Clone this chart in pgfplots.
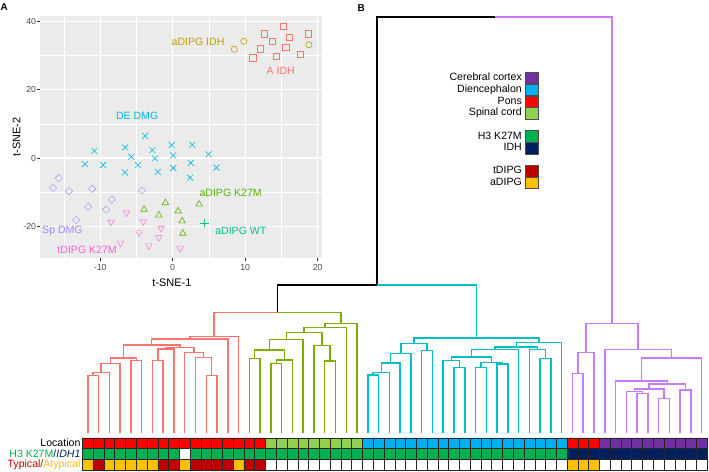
\documentclass[border=0pt]{standalone}
\usepackage{pgfplots}
\pgfplotsset{compat=1.18}
\usepackage{fontspec}
\setmainfont{Liberation Sans}

% t-SNE groups (ggplot hue palette, 7 levels)
\definecolor{gAidh}{HTML}{F8766D}
\definecolor{gaIdh}{HTML}{C49A00}
\definecolor{gaK}{HTML}{53B400}
\definecolor{gaWT}{HTML}{00C094}
\definecolor{gDE}{HTML}{00B6EB}
\definecolor{gSp}{HTML}{A58AFF}
\definecolor{gtK}{HTML}{FB61D7}
\definecolor{panelgray}{HTML}{EBEBEB}
\definecolor{ticktext}{HTML}{4D4D4D}
% dendrogram clusters (ggplot hue palette, 4 levels)
\definecolor{k1}{HTML}{F8766D}
\definecolor{k2}{HTML}{7CAE00}
\definecolor{k3}{HTML}{00BFC4}
\definecolor{k4}{HTML}{C77CFF}
% annotation bars
\definecolor{pons}{HTML}{FF0000}
\definecolor{spinal}{HTML}{92D050}
\definecolor{dien}{HTML}{00B0F0}
\definecolor{cortex}{HTML}{7030A0}
\definecolor{hthree}{HTML}{00B050}
\definecolor{idh}{HTML}{002060}
\definecolor{typ}{HTML}{C00000}
\definecolor{atyp}{HTML}{FFC000}

\begin{document}
\begin{tikzpicture}
\path[use as bounding box] (0,0) rectangle (709bp,472bp);

\node[anchor=north west, inner sep=0pt, font=\fontsize{10}{12}\selectfont\bfseries] at (0.5bp,469bp) {A};
\node[anchor=north west, inner sep=0pt, font=\fontsize{10}{12}\selectfont\bfseries] at (357.5bp,468bp) {B};

% ---------------- panel A: t-SNE ----------------
\begin{axis}[
  at={(40bp,214bp)}, anchor=south west,
  scale only axis, width=282bp, height=242bp,
  xmin=-18.3, xmax=20.6, ymin=-29.2, ymax=41.5,
  xtick={-10,0,10,20}, ytick={-20,0,20,40},
  minor xtick={-15,-5,5,15}, minor ytick={-10,10,30},
  grid=both,
  major grid style={white, line width=1.1bp},
  minor grid style={white, line width=0.5bp},
  axis background/.style={fill=panelgray},
  axis line style={draw=none},
  tick pos=left, tick align=outside,
  major tick length=2.7bp, minor tick length=0pt,
  tick style={black!80, line width=0.5bp},
  ticklabel style={font=\fontsize{8.8}{10}\selectfont, text=ticktext, inner sep=0pt},
  xticklabel style={yshift=-3bp},
  yticklabel style={xshift=-1bp},
  /pgf/number format/assume math mode=true,
  xlabel={t-SNE-1}, ylabel={t-SNE-2},
  label style={font=\fontsize{11}{13}\selectfont},
  xlabel style={at={(axis description cs:0.468,-0.103)}, anchor=center},
  ylabel style={at={(axis description cs:-0.083,0.5)}, anchor=center},
  mark options={solid, line width=0.6bp},
]
% DE DMG
\addplot[only marks, gDE, mark=x, mark size=4.2bp] coordinates {
  (-10.8,2.1) (-6.55,3.1) (-3.8,6.5) (-2.8,2.3) (-0.15,3.8) (2.7,3.9)
  (-5.7,0.4) (-2.45,-0.1) (0.07,0.8) (4.95,1.1) (-12.1,-1.8) (-9.6,-2.05)
  (-4.8,-2.05) (2.5,-1.4) (6.05,-2.8) (0.1,-2.9) (-6.6,-4.2) (-2.05,-4.0) (2.4,-5.75)};
% Sp DMG
\addplot[only marks, gSp, mark=square, mark size=2.6bp, mark options={rotate=45}] coordinates {
  (-15.7,-5.85) (-16.5,-8.7) (-14.3,-9.65) (-11.1,-9.0) (-4.25,-9.45)
  (-8.4,-12.1) (-11.65,-14.2) (-9.2,-15.1) (-13.3,-18.1)};
% tDIPG K27M
\addplot[only marks, gtK, mark=triangle, mark size=3.8bp, mark options={rotate=180}] coordinates {
  (-6.35,-16.0) (-8.5,-18.7) (-4.05,-18.6) (-1.6,-20.5) (-4.65,-21.8)
  (-1.9,-23.2) (-7.2,-24.8) (-3.3,-25.6) (1.05,-26.4)};
% aDIPG K27M
\addplot[only marks, gaK, mark=triangle, mark size=3.8bp] coordinates {
  (-3.95,-15.0) (-1.0,-13.1) (-1.9,-16.7) (0.75,-15.5) (1.3,-18.4) (1.4,-22.0) (3.65,-13.5)};
% aDIPG WT
\addplot[only marks, gaWT, mark=+, mark size=4.4bp] coordinates {(4.4,-19.0)};
% aDIPG IDH
\addplot[only marks, gaIdh, mark=o, mark size=3.1bp] coordinates {
  (8.5,31.8) (9.8,34.1) (18.8,33.1)};
% A IDH
\addplot[only marks, gAidh, mark=square, mark size=3.1bp] coordinates {
  (15.3,38.5) (12.6,36.3) (18.75,36.3) (13.7,34.1) (16.1,35.2)
  (12.1,31.9) (15.6,32.4) (11.05,29.3) (14.3,29.7) (17.6,30.2)};

\begin{scope}[every node/.style={font=\fontsize{10.6}{12}\selectfont, inner sep=0pt}]
\node[text=gaIdh] at (3.5,33.8) {aDIPG IDH};
\node[text=gAidh] at (14.9,25.4) {A IDH};
\node[text=gDE] at (-4.9,12.2) {DE DMG};
\node[text=gaK] at (8.0,-10.1) {aDIPG K27M};
\node[text=gaWT] at (9.4,-21.3) {aDIPG WT};
\node[text=gSp] at (-15.2,-21.3) {Sp DMG};
\node[text=gtK] at (-11.8,-26.9) {tDIPG K27M};
\end{scope}
\end{axis}

% ---------------- panel B: dendrogram ----------------
\begin{axis}[
  at={(82.4bp,39bp)}, anchor=south west,
  scale only axis, width=624.7bp, height=416bp,
  xmin=0.5, xmax=58.5, ymin=0, ymax=416,
  hide axis, clip=false,
  unbounded coords=jump,
  legend plot pos=right,
  legend cell align=right,
  legend style={draw=none, fill=none, inner sep=0pt, outer sep=0pt,
    row sep=0pt, column sep=3.4bp,
    at={(axis description cs:0.7298,0.8678)}, anchor=north east,
    nodes={inner sep=0pt, text height=8.3bp, text depth=3bp,
      font=\fontsize{10.6}{12}\selectfont}},
  legend image code/.code={\draw[#1, draw=black!70, line width=0.5bp]
    (0bp,-5.65bp) rectangle (12.6bp,5.65bp);},
]
% above the clusters
\addplot[black, line width=1.5bp, forget plot] coordinates {
  (18.62890625,120.7)(18.62890625,148)(27.857421875,148) (nan,nan)
  (27.857421875,148)(27.857421875,416)(38.7666,416)};
% cluster 1
\addplot[k1, line width=1.5bp, forget plot] coordinates {
  (1,0)(1,57.3)(2,57.3)(2,0) (nan,nan)
  (1.5,57.3)(1.5,60.7)(3,60.7)(3,0) (nan,nan)
  (2.25,60.7)(2.25,69.5)(4,69.5)(4,0) (nan,nan)
  (5,0)(5,72.5)(6,72.5)(6,0) (nan,nan)
  (3.125,69.5)(3.125,75)(5.5,75)(5.5,72.5) (nan,nan)
  (7,0)(7,72.5)(8,72.5)(8,0) (nan,nan)
  (7.5,72.5)(7.5,84)(9,84)(9,0) (nan,nan)
  (12,0)(12,57.7)(13,57.7)(13,0) (nan,nan)
  (11,0)(11,75.3)(12.5,75.3)(12.5,57.7) (nan,nan)
  (10,0)(10,80.7)(11.75,80.7)(11.75,75.3) (nan,nan)
  (8.25,84)(8.25,85.3)(10.875,85.3)(10.875,80.7) (nan,nan)
  (4.3125,75)(4.3125,88)(9.5625,88)(9.5625,85.3) (nan,nan)
  (6.9375,88)(6.9375,94)(14,94)(14,0) (nan,nan)
  (10.46875,94)(10.46875,96.3)(15,96.3)(15,0) (nan,nan)
  (12.734375,96.3)(12.734375,120.7)(18.62890625,120.7)};
% cluster 2
\addplot[k2, line width=1.5bp, forget plot] coordinates {
  (16,0)(16,74.7)(17,74.7)(17,0) (nan,nan)
  (18,0)(18,69.7)(19,69.7)(19,0) (nan,nan)
  (18.5,69.7)(18.5,73)(20,73)(20,0) (nan,nan)
  (16.5,74.7)(16.5,83)(19.25,83)(19.25,73) (nan,nan)
  (17.875,83)(17.875,93.7)(21,93.7)(21,0) (nan,nan)
  (23,0)(23,72)(24,72)(24,0) (nan,nan)
  (22,0)(22,87.3)(23.5,87.3)(23.5,72) (nan,nan)
  (19.4375,93.7)(19.4375,100.7)(22.75,100.7)(22.75,87.3) (nan,nan)
  (21.09375,100.7)(21.09375,105.3)(25,105.3)(25,0) (nan,nan)
  (23.046875,105.3)(23.046875,109.7)(26,109.7)(26,0) (nan,nan)
  (24.5234375,109.7)(24.5234375,120.7)(18.62890625,120.7)};
% cluster 3
\addplot[k3, line width=1.5bp, forget plot] coordinates {
  (27,0)(27,58)(28,58)(28,0) (nan,nan)
  (27.5,58)(27.5,60.7)(29,60.7)(29,0) (nan,nan)
  (28.25,60.7)(28.25,70)(30,70)(30,0) (nan,nan)
  (29.125,70)(29.125,79.7)(31,79.7)(31,0) (nan,nan)
  (32,0)(32,82.3)(33,82.3)(33,0) (nan,nan)
  (30.0625,79.7)(30.0625,89.3)(32.5,89.3)(32.5,82.3) (nan,nan)
  (35,0)(35,65.7)(36,65.7)(36,0) (nan,nan)
  (34,0)(34,72.3)(35.5,72.3)(35.5,65.7) (nan,nan)
  (37,0)(37,65.7)(38,65.7)(38,0) (nan,nan)
  (39,0)(39,69)(40,69)(40,0) (nan,nan)
  (37.5,65.7)(37.5,70.7)(39.5,70.7)(39.5,69) (nan,nan)
  (34.75,72.3)(34.75,76)(38.5,76)(38.5,70.7) (nan,nan)
  (36.625,76)(36.625,83.5)(41,83.5)(41,0) (nan,nan)
  (43,0)(43,74.7)(44,74.7)(44,0) (nan,nan)
  (42,0)(42,83.5)(43.5,83.5)(43.5,74.7) (nan,nan)
  (38.8125,83.5)(38.8125,86)(42.75,86)(42.75,83.5) (nan,nan)
  (40.78125,86)(40.78125,90.5)(45,90.5)(45,0) (nan,nan)
  (31.28125,89.3)(31.28125,95)(42.890625,95)(42.890625,90.5) (nan,nan)
  (37.0859375,95)(37.0859375,148)(27.857421875,148)};
% cluster 4
\addplot[k4, line width=1.5bp, forget plot] coordinates {
  (46,0)(46,59.7)(47,59.7)(47,0) (nan,nan)
  (46.5,59.7)(46.5,80.5)(48,80.5)(48,0) (nan,nan)
  (52,0)(52,39.7)(53,39.7)(53,0) (nan,nan)
  (51,0)(51,41.3)(52.5,41.3)(52.5,39.7) (nan,nan)
  (54,0)(54,34.7)(55,34.7)(55,0) (nan,nan)
  (51.75,41.3)(51.75,44)(54.5,44)(54.5,34.7) (nan,nan)
  (56,0)(56,43)(57,43)(57,0) (nan,nan)
  (53.125,44)(53.125,49)(56.5,49)(56.5,43) (nan,nan)
  (50,0)(50,52)(54.8125,52)(54.8125,49) (nan,nan)
  (52.40625,52)(52.40625,75)(58,75)(58,0) (nan,nan)
  (49,0)(49,83.7)(55.203125,83.7)(55.203125,75) (nan,nan)
  (47.25,80.5)(47.25,109.3)(52.1015625,109.3)(52.1015625,83.7) (nan,nan)
  (49.67578125,109.3)(49.67578125,416)(38.7666,416)};

\addlegendimage{fill=cortex}\addlegendentry{Cerebral cortex}
\addlegendimage{fill=dien}\addlegendentry{Diencephalon}
\addlegendimage{fill=pons}\addlegendentry{Pons}
\addlegendimage{fill=spinal}\addlegendentry{Spinal cord}
\addlegendimage{empty legend}\addlegendentry{}
\addlegendimage{fill=hthree}\addlegendentry{H3 K27M}
\addlegendimage{fill=idh}\addlegendentry{IDH}
\addlegendimage{empty legend}\addlegendentry{}
\addlegendimage{fill=typ}\addlegendentry{tDIPG}
\addlegendimage{fill=atyp}\addlegendentry{aDIPG}
\end{axis}

% ---------------- panel B: annotation bars ----------------
\begin{axis}[
  at={(82.4bp,1.9bp)}, anchor=south west,
  scale only axis, width=624.7bp, height=32.3bp,
  xmin=0.5, xmax=58.5, ymin=0, ymax=3,
  axis line style={draw=none}, xtick=\empty,
  ytick={0.5,1.5,2.5},
  yticklabels={{\textcolor{typ}{Typical/}\textcolor{atyp}{Atypical}},
    {\textcolor{hthree}{H3 K27M}\textcolor{idh}{/\textit{IDH1}}},
    {Location}},
  major tick length=0pt,
  yticklabel style={font=\fontsize{10.6}{12}\selectfont, inner sep=0pt, xshift=-1.8bp},
  clip=false,
  every axis plot/.append style={ybar, bar width=1, bar shift=0pt,
    draw=black!85, line width=0.5bp},
]
% location (top row)
\addplot[fill=pons] coordinates {
  (1,3)(2,3)(3,3)(4,3)(5,3)(6,3)(7,3)(8,3)(9,3)(10,3)(11,3)(12,3)(13,3)(14,3)(15,3)(16,3)(17,3)
  (46,3)(47,3)(48,3)};
\addplot[fill=spinal] coordinates {
  (18,3)(19,3)(20,3)(21,3)(22,3)(23,3)(24,3)(25,3)(26,3)};
\addplot[fill=dien] coordinates {
  (27,3)(28,3)(29,3)(30,3)(31,3)(32,3)(33,3)(34,3)(35,3)(36,3)(37,3)(38,3)(39,3)(40,3)
  (41,3)(42,3)(43,3)(44,3)(45,3)};
\addplot[fill=cortex] coordinates {
  (49,3)(50,3)(51,3)(52,3)(53,3)(54,3)(55,3)(56,3)(57,3)(58,3)};
% H3 K27M / IDH1 (middle row)
\addplot[fill=hthree] coordinates {
  (1,2)(2,2)(3,2)(4,2)(5,2)(6,2)(7,2)(8,2)(9,2)(11,2)(12,2)(13,2)(14,2)(15,2)(16,2)(17,2)
  (18,2)(19,2)(20,2)(21,2)(22,2)(23,2)(24,2)(25,2)(26,2)(27,2)(28,2)(29,2)(30,2)(31,2)
  (32,2)(33,2)(34,2)(35,2)(36,2)(37,2)(38,2)(39,2)(40,2)(41,2)(42,2)(43,2)(44,2)(45,2)};
\addplot[fill=white] coordinates {(10,2)};
\addplot[fill=idh] coordinates {
  (46,2)(47,2)(48,2)(49,2)(50,2)(51,2)(52,2)(53,2)(54,2)(55,2)(56,2)(57,2)(58,2)};
% typical / atypical (bottom row)
\addplot[fill=atyp] coordinates {
  (1,1)(3,1)(4,1)(5,1)(6,1)(7,1)(10,1)(15,1)(46,1)(47,1)(48,1)};
\addplot[fill=typ] coordinates {
  (2,1)(8,1)(9,1)(11,1)(12,1)(13,1)(14,1)(16,1)(17,1)};
\addplot[fill=white] coordinates {
  (18,1)(19,1)(20,1)(21,1)(22,1)(23,1)(24,1)(25,1)(26,1)(27,1)(28,1)(29,1)(30,1)(31,1)
  (32,1)(33,1)(34,1)(35,1)(36,1)(37,1)(38,1)(39,1)(40,1)(41,1)(42,1)(43,1)(44,1)(45,1)
  (49,1)(50,1)(51,1)(52,1)(53,1)(54,1)(55,1)(56,1)(57,1)(58,1)};
\end{axis}
\end{tikzpicture}
\end{document}
